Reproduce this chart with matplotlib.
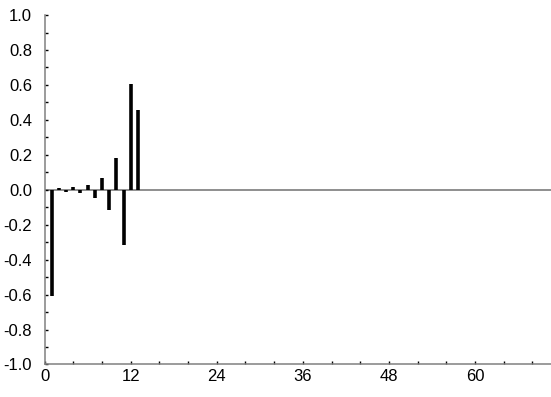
import numpy as np
import matplotlib
matplotlib.use('Agg')
import matplotlib.pyplot as plt
from matplotlib.ticker import MultipleLocator

plt.rcParams['font.family'] = ['Liberation Sans', 'DejaVu Sans']

# autocorrelation values by lag
lags = [1, 2, 3, 4, 5, 6, 7, 8, 9, 10, 11, 12, 13]
acf = [-0.61, 0.01, -0.01, 0.015, -0.02, 0.025, -0.045, 0.067, -0.115, 0.18, -0.318, 0.607, 0.454]

x_ticks = [0, 12, 24, 36, 48, 60]
y_ticks = [-1.0, -0.8, -0.6, -0.4, -0.2, 0.0, 0.2, 0.4, 0.6, 0.8, 1.0]

fig = plt.figure(figsize=(5.51, 3.97), dpi=100)
ax = fig.add_axes([0.081, 0.082, 0.919, 0.880])

ax.axhline(0, color='#707070', lw=1.1, zorder=1)
ax.vlines(lags, 0, acf, color='black', lw=2.6, zorder=2)

ax.set_xlim(0, 70.6)
ax.set_ylim(-1.0, 1.0)
ax.set_xticks(x_ticks)
ax.set_yticks(y_ticks)
ax.set_yticklabels(['%.1f' % v for v in y_ticks])
ax.xaxis.set_minor_locator(MultipleLocator(4))
ax.yaxis.set_minor_locator(MultipleLocator(0.1))
ax.tick_params(which='both', direction='in', length=2, width=1, color='black',
               labelsize=12, pad=3)
ax.tick_params(axis='y', which='both', pad=9)

for s in ['top', 'right']:
    ax.spines[s].set_visible(False)
for s in ['left', 'bottom']:
    ax.spines[s].set_color('#808080')
    ax.spines[s].set_linewidth(1.1)

fig.savefig('out.png', dpi=100)
